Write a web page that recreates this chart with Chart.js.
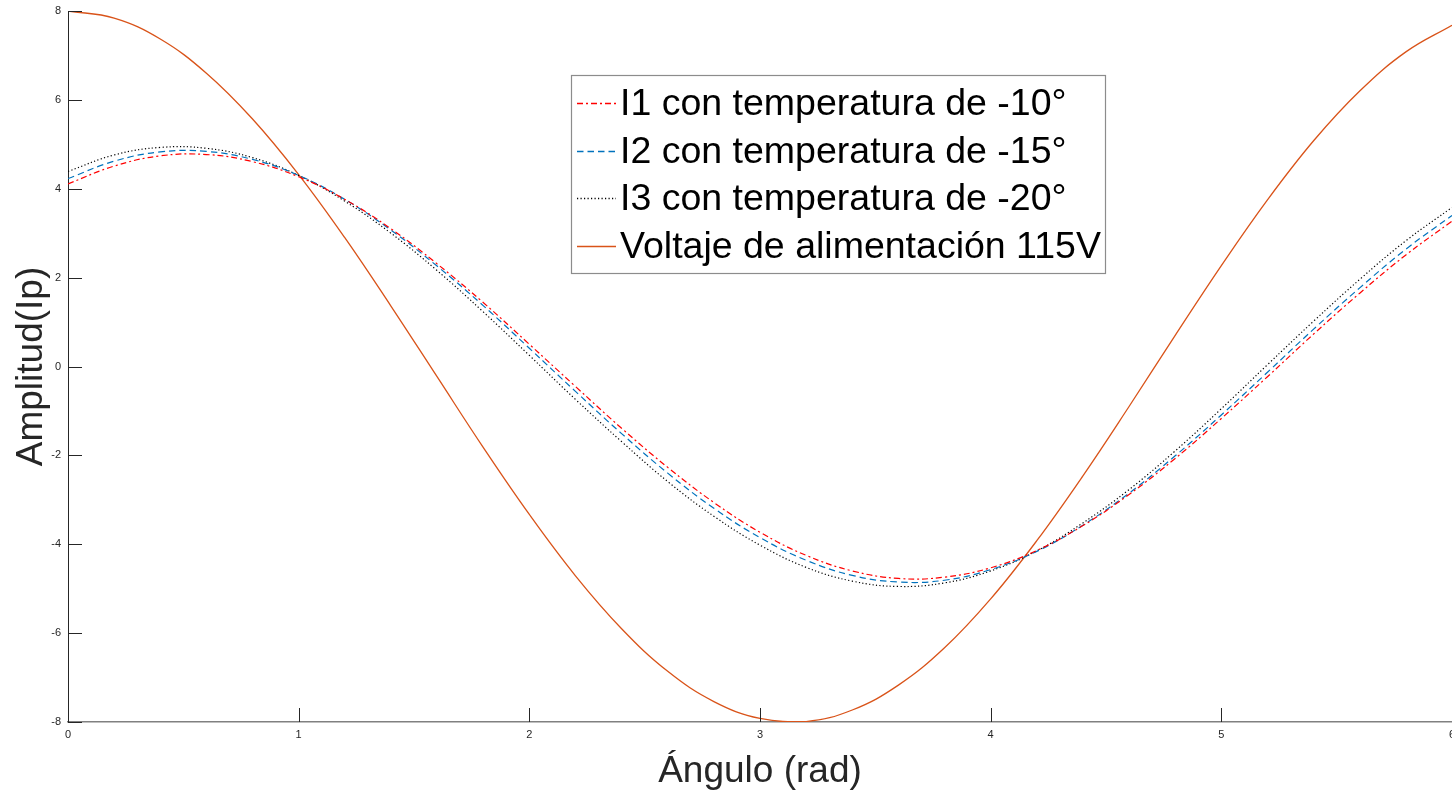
<!DOCTYPE html>
<html>
<head>
<meta charset="utf-8">
<script src="https://cdn.jsdelivr.net/npm/chart.js@4/dist/chart.umd.min.js"></script>
<style>
html, body { margin: 0; padding: 0; background: #fff; overflow: hidden; }
#wrap { position: relative; width: 1452px; height: 793px; }
</style>
</head>
<body>
<div id="wrap"><canvas id="graph"></canvas></div>
<script>
// angulo en rad, cada 0.2
const angles = [0,0.2,0.4,0.6,0.8,1,1.2,1.4,1.6,1.8,2,2.2,2.4,2.6,2.8,3,3.2,3.4,3.6,3.8,4,4.2,4.4,4.6,4.8,5,5.2,5.4,5.6,5.8,6];

const i1 = [4.11,4.51,4.74,4.77,4.61,4.27,3.76,3.10,2.31,1.44,0.50,-0.45,-1.39,-2.27,-3.06,-3.73,-4.25,-4.60,-4.77,-4.74,-4.53,-4.14,-3.58,-2.88,-2.07,-1.17,-0.23,0.73,1.65,2.51,3.27];
const i2 = [4.23,4.62,4.83,4.84,4.66,4.30,3.76,3.07,2.26,1.37,0.41,-0.56,-1.51,-2.40,-3.19,-3.85,-4.36,-4.70,-4.85,-4.81,-4.57,-4.16,-3.57,-2.85,-2.01,-1.09,-0.13,0.84,1.77,2.64,3.40];
const i3 = [4.39,4.76,4.93,4.91,4.70,4.30,3.72,3.00,2.16,1.23,0.25,-0.74,-1.69,-2.59,-3.37,-4.02,-4.52,-4.83,-4.95,-4.87,-4.60,-4.15,-3.52,-2.77,-1.90,-0.95,0.04,1.02,1.96,2.83,3.58];
const voltage = [8,7.84,7.37,6.60,5.57,4.32,2.90,1.36,-0.23,-1.82,-3.33,-4.71,-5.90,-6.86,-7.54,-7.92,-7.99,-7.73,-7.17,-6.33,-5.23,-3.92,-2.46,-0.90,0.70,2.27,3.75,5.08,6.20,7.08,7.68];

const seriesNames = [
    "I1 con temperatura de -10°",
    "I2 con temperatura de -15°",
    "I3 con temperatura de -20°",
    "Voltaje de alimentación 115V"
];
const seriesColors = ["#ff0000", "#0072bd", "#000000", "#d95319"];
const seriesDashes = [[6, 3, 2, 3], [6.5, 4], [1.2, 2.3], []];

const FONT = '"Liberation Sans", Arial, sans-serif';

function points(values) {
    return values.map((v, i) => ({x: angles[i], y: v}));
}

// ticks hacia adentro, como en matlab
const innerTicks = {
    id: "innerTicks",
    afterDraw(chart) {
        const ctx = chart.ctx;
        const area = chart.chartArea;
        const sx = chart.scales.x;
        const sy = chart.scales.y;
        ctx.save();
        ctx.strokeStyle = "#262626";
        ctx.lineWidth = 1;
        ctx.beginPath();
        sy.ticks.forEach(t => {
            const y = Math.round(sy.getPixelForValue(t.value)) + 0.5;
            ctx.moveTo(area.left, y);
            ctx.lineTo(area.left + 14, y);
        });
        sx.ticks.forEach(t => {
            const x = Math.round(sx.getPixelForValue(t.value)) + 0.5;
            ctx.moveTo(x, area.bottom);
            ctx.lineTo(x, area.bottom - 14);
        });
        ctx.stroke();
        ctx.restore();
    }
};

const legendBox = {
    id: "legendBox",
    afterDraw(chart) {
        const ctx = chart.ctx;
        ctx.save();
        ctx.fillStyle = "#fff";
        ctx.fillRect(571, 75, 534, 198);
        ctx.strokeStyle = "#8c8c8c";
        ctx.lineWidth = 1.2;
        ctx.strokeRect(571.5, 75.5, 534, 198);
        seriesNames.forEach((name, i) => {
            const y = Math.round(102.7 + i * 47.8);
            ctx.setLineDash(seriesDashes[i]);
            ctx.strokeStyle = seriesColors[i];
            ctx.lineWidth = 1.3;
            ctx.beginPath();
            ctx.moveTo(577, y + 0.5);
            ctx.lineTo(616, y + 0.5);
            ctx.stroke();
            ctx.setLineDash([]);
            ctx.fillStyle = "#000";
            ctx.font = "37.5px " + FONT;
            ctx.textBaseline = "middle";
            ctx.fillText(name, 620, y + 1.5);
        });
        ctx.restore();
    }
};

var graph = document.getElementById("graph").getContext("2d");

var chart = new Chart(graph, {
    type: "line",
    data: {
        datasets: [i1, i2, i3, voltage].map((values, i) => ({
            label: seriesNames[i],
            data: points(values),
            borderColor: seriesColors[i],
            borderWidth: i == 3 ? 1.3 : 1.2,
            borderDash: seriesDashes[i]
        }))
    },
    options: {
        responsive: true,
        maintainAspectRatio: false,
        animation: false,
        events: [],
        elements: {
            point: { radius: 0 },
            line: { tension: 0.4, fill: false }
        },
        layout: { padding: { top: 11, right: 0, left: 0, bottom: 0 } },
        plugins: {
            legend: { display: false },
            tooltip: { enabled: false }
        },
        scales: {
            x: {
                type: "linear",
                min: 0,
                max: 6,
                ticks: {
                    stepSize: 1,
                    padding: 6,
                    maxRotation: 0,
                    color: "#262626",
                    font: { family: FONT, size: 11 }
                },
                grid: { display: false, drawTicks: false },
                border: { display: true, color: "#808080", width: 1.5 },
                title: {
                    display: true,
                    text: "Ángulo (rad)",
                    color: "#262626",
                    font: { family: FONT, size: 37, lineHeight: 1 },
                    padding: { top: 0, bottom: 3 }
                },
                afterFit(scale) {
                    scale.height = 71;
                    scale.paddingLeft = 0;
                    scale.paddingRight = 0;
                }
            },
            y: {
                min: -8,
                max: 8,
                ticks: {
                    stepSize: 2,
                    padding: 7,
                    color: "#262626",
                    font: { family: FONT, size: 11 }
                },
                grid: { display: false, drawTicks: false },
                border: { display: true, color: "#262626", width: 1 },
                title: {
                    display: true,
                    text: "Amplitud(Ip)",
                    color: "#262626",
                    font: { family: FONT, size: 37, lineHeight: 1 },
                    padding: { top: 13, bottom: 0 }
                },
                afterFit(scale) {
                    scale.width = 68;
                    scale.paddingTop = 0;
                    scale.paddingBottom = 0;
                }
            }
        }
    },
    plugins: [innerTicks, legendBox]
});
</script>
</body>
</html>
